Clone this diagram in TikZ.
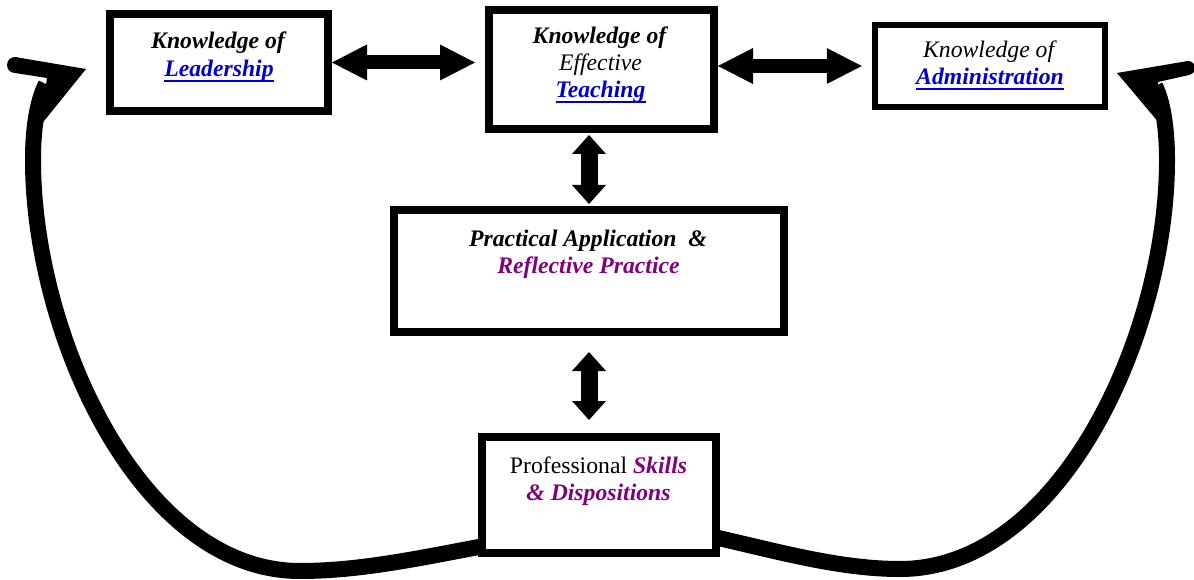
\documentclass[tikz,border=0pt]{standalone}
\usepackage{fontspec}
\setmainfont{Liberation Serif}
\usetikzlibrary{arrows.meta,calc}
\definecolor{linkblue}{HTML}{0000CC}
\definecolor{purp}{HTML}{800080}
\newsavebox\ulbox
\newcommand\myul[1]{\sbox\ulbox{#1}\rlap{\usebox\ulbox}\rule[-5.5pt]{\wd\ulbox}{2pt}}
\begin{document}
\begin{tikzpicture}[x=1pt,y=-1pt,
  box/.style={draw, line width=8pt, inner sep=0pt},
  txt/.style={anchor=base, inner sep=0pt, font=\fontsize{23.7}{27}\selectfont},
  hdbl/.style={line width=14pt, {Triangle[length=35pt,width=36pt,line width=0pt]}-{Triangle[length=35pt,width=36pt,line width=0pt]}},
  vdbl/.style={line width=17pt, {Triangle[length=19pt,width=34pt,line width=0pt]}-{Triangle[length=19pt,width=34pt,line width=0pt]}},
  loopline/.style={line width=16pt, line join=round}
]
\useasboundingbox (0,0) rectangle (1194,580);
\fill[white] (0,0) rectangle (1194,580);

% boxes
\node[box, minimum width=218pt, minimum height=97pt] (b1) at (219,62.5) {};
\node[box, minimum width=225pt, minimum height=119pt] (b2) at (601.5,69.5) {};
\node[box, line width=6.5pt, minimum width=230pt, minimum height=82pt] (b3) at (990,66) {};
\node[box, minimum width=390pt, minimum height=122pt] (b4) at (589,271) {};
\node[box, minimum width=234pt, minimum height=116pt] (b5) at (599,495) {};

% texts
\node[txt] (t11) at (219,49) {\textbf{\textit{Knowledge of}}};
\node[txt, text=linkblue] (t12) at (219,77) {\textbf{\textit{\myul{Leadership}}}};

\node[txt] (t21) at (600.5,44) {\textbf{\textit{Knowledge of}}};
\node[txt] (t22) at (600.5,71) {\textit{Effective}};
\node[txt, text=linkblue] (t23) at (600.5,98) {\textbf{\textit{\myul{Teaching}}}};

\node[txt] (t31) at (990,58) {\textit{Knowledge of}};
\node[txt, text=linkblue] (t32) at (990,85) {\textbf{\textit{\myul{Administration}}}};

\node[txt] (t41) at (588,247) {\textbf{\textit{Practical Application~ \&}}};
\node[txt, text=purp] (t42) at (588.5,273) {\textbf{\textit{Reflective Practice}}};

\node[txt] (t51) at (598.5,473) {Professional \textcolor{purp}{\textbf{\textit{Skills}}}};
\node[txt, text=purp] (t52) at (598.5,500) {\textbf{\textit{\& Dispositions}}};

% double arrows
\draw[hdbl] (b1.east) -- ($(b2.west |- b1.east)+(-10,0)$);
\draw[hdbl] (b2.east |- b3.west) -- ($(b3.west)+(-10,0)$);
\draw[vdbl] ($(b4.north |- b2.south)+(0,2)$) -- ($(b4.north)+(0,-2)$);
\draw[vdbl] ($(b4.south)+(0,16)$) -- ($(b4.south |- b5.north)+(0,-13)$);

% loop lines
\coordinate (lstart) at ($(b5.south west)+(6,-11)$);
\coordinate (rstart) at ($(b5.south east)+(-6,-20)$);
\coordinate (lend) at (46,84);
\coordinate (rend) at (1155,86);
\draw[loopline] (lstart) .. controls (420,558) and (360,571) .. (300,571)
  .. controls (140,571) and (33,335) .. (33,160)
  .. controls (33,125) and (38,100) .. (lend);
\draw[loopline] (rstart) .. controls (780,552) and (840,569) .. (900,569)
  .. controls (1060,569) and (1167,335) .. (1167,160)
  .. controls (1167,125) and (1162,100) .. (rend);

% arrow heads of the loops
\fill (15,57) -- (86,69) -- (40,126) -- (47,78) -- (15,73) -- cycle;
\fill (15,65) circle[radius=8pt];
\fill (1188,61) -- (1117,73) -- (1160,124) -- (1158,82) -- (1189,75) -- cycle;
\fill (1188,68) circle[radius=7pt];
\end{tikzpicture}
\end{document}
